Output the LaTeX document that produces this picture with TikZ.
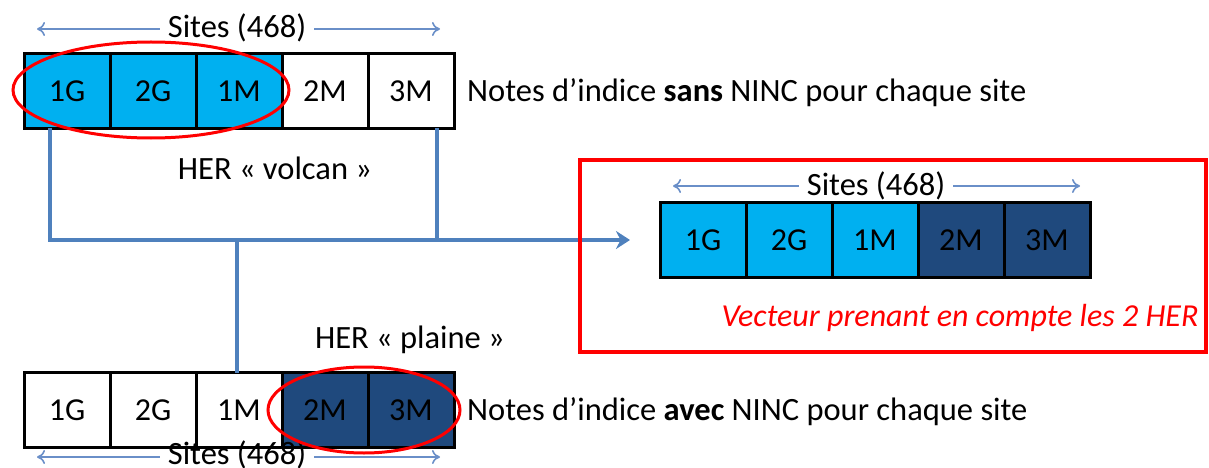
\documentclass[tikz,border=0pt]{standalone}
\usepackage{fontspec}
\setmainfont{Carlito}
\usetikzlibrary{arrows.meta}
\definecolor{lblue}{HTML}{00B0F0}
\definecolor{dblue}{HTML}{1F497D}
\definecolor{conn}{HTML}{4F81BD}
\definecolor{sitearr}{HTML}{6A8FC8}
\definecolor{red0}{HTML}{FF0000}
\tikzset{
  cell/.style={draw=black, line width=3pt, minimum width=86pt, minimum height=75pt, inner sep=0pt, outer sep=0pt, font=\fontsize{32}{36}\selectfont, anchor=west},
  lcell/.style={cell, fill=lblue},
  dcell/.style={cell, fill=dblue},
  wcell/.style={cell, fill=white},
  lbl/.style={font=\fontsize{32.5}{36}\selectfont, inner sep=0pt},
  conline/.style={draw=conn, line width=4pt},
  sitearrow/.style={draw=sitearr, line width=1.6pt, -{To[length=8pt,width=14pt]}},
  redring/.style={draw=red0, line width=3pt},
}
\begin{document}
\begin{tikzpicture}[x=1pt,y=-1pt]
\useasboundingbox (0,0) rectangle (1209,468);
% top strip
\node[lcell] (t1) at (24,91) {1G};
\node[lcell] (t2) at (t1.east) {2G};
\node[lcell] (t3) at (t2.east) {1M};
\node[wcell] (t4) at (t3.east) {2M};
\node[wcell] (t5) at (t4.east) {3M};
\node[lbl] (ts) at (237,28) {Sites (468)};
\coordinate (tsl) at (37,29);
\coordinate (tsr) at (440,29);
\draw[sitearrow] (ts.west |- tsl) ++(-8,0) -- (tsl);
\draw[sitearrow] (ts.east |- tsr) ++(8,0) -- (tsr);
\node[lbl, anchor=west] (tn) at (467,93) {Notes d’indice \textbf{sans} NINC pour chaque site};
\draw[redring] (151,90) ellipse [x radius=138, y radius=48];
\node[lbl] (hv) at (275,168) {HER « volcan »};

% connectors
\coordinate (jl) at (50,240);
\coordinate (jr) at (437,240);
\coordinate (jm) at (237,240);
\coordinate (tip) at (630,240);
\draw[conline] (t1.south -| jl) -- (jl) -- (jr) -- (t5.south -| jr);
\draw[conline, -{Stealth[length=14pt,width=18pt]}] (jl) -- (tip);

% bottom strip
\node[wcell] (b1) at (24,410) {1G};
\node[wcell] (b2) at (b1.east) {2G};
\node[wcell] (b3) at (b2.east) {1M};
\node[dcell] (b4) at (b3.east) {2M};
\node[dcell] (b5) at (b4.east) {3M};
\draw[conline] (b3.north -| jm) -- (jm);
\node[lbl] (bs) at (237,455) {Sites (468)};
\coordinate (bsl) at (37,457);
\coordinate (bsr) at (440,457);
\draw[sitearrow] (bs.west |- bsl) ++(-8,0) -- (bsl);
\draw[sitearrow] (bs.east |- bsr) ++(8,0) -- (bsr);
\draw[redring] (364,410) ellipse [x radius=96, y radius=43];
\node[lbl] (hp) at (410,340) {HER « plaine »};
\node[lbl, anchor=west] (bn) at (467,412) {Notes d’indice \textbf{avec} NINC pour chaque site};

% result box
\node[draw=red0, line width=4pt, minimum width=626pt, minimum height=192pt, anchor=north west, inner sep=0pt, outer sep=0pt] (box) at (580,160) {};
\node[lcell] (r1) at (660,240) {1G};
\node[lcell] (r2) at (r1.east) {2G};
\node[lcell] (r3) at (r2.east) {1M};
\node[dcell] (r4) at (r3.east) {2M};
\node[dcell] (r5) at (r4.east) {3M};
\node[lbl] (rs) at (876,186) {Sites (468)};
\coordinate (rsl) at (673,186);
\coordinate (rsr) at (1080,186);
\draw[sitearrow] (rs.west |- rsl) ++(-8,0) -- (rsl);
\draw[sitearrow] (rs.east |- rsr) ++(8,0) -- (rsr);
\node[lbl, text=red0, font=\fontsize{32}{36}\selectfont\itshape] (vt) at (960,318) {Vecteur prenant en compte les 2 HER};
\end{tikzpicture}
\end{document}
